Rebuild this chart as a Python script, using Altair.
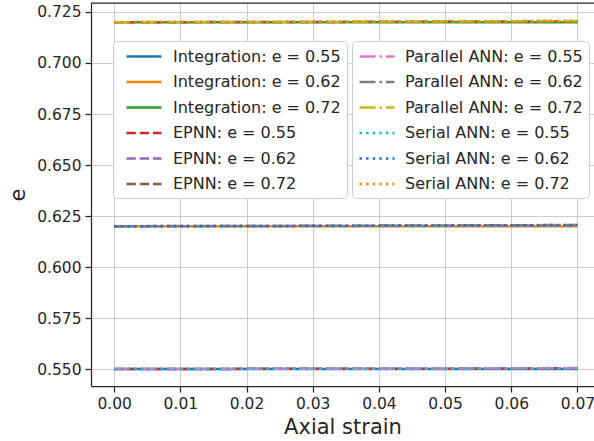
import altair as alt
import pandas as pd

# Axial strain sample points shared by every curve
strain = [0.00, 0.01, 0.02, 0.03, 0.04, 0.05, 0.06, 0.07]

# Void ratio e for each model and initial void ratio
integration_055 = [0.5500, 0.5500, 0.5500, 0.5500, 0.5500, 0.5500, 0.5500, 0.5500]
integration_062 = [0.6200, 0.6200, 0.6200, 0.6200, 0.6200, 0.6200, 0.6200, 0.6200]
integration_072 = [0.7200, 0.7200, 0.7200, 0.7200, 0.7200, 0.7200, 0.7200, 0.7200]
epnn_055 = [0.5500, 0.5500, 0.5501, 0.5501, 0.5502, 0.5502, 0.5503, 0.5504]
epnn_062 = [0.6200, 0.6200, 0.6201, 0.6201, 0.6202, 0.6203, 0.6203, 0.6204]
epnn_072 = [0.7200, 0.7200, 0.7201, 0.7201, 0.7202, 0.7203, 0.7203, 0.7204]
parallel_055 = [0.5500, 0.5500, 0.5501, 0.5502, 0.5502, 0.5503, 0.5504, 0.5505]
parallel_062 = [0.6200, 0.6201, 0.6201, 0.6202, 0.6203, 0.6204, 0.6205, 0.6206]
parallel_072 = [0.7200, 0.7201, 0.7201, 0.7202, 0.7203, 0.7204, 0.7205, 0.7206]
serial_055 = [0.5500, 0.5500, 0.5501, 0.5501, 0.5502, 0.5502, 0.5503, 0.5503]
serial_062 = [0.6200, 0.6201, 0.6201, 0.6202, 0.6203, 0.6204, 0.6205, 0.6206]
serial_072 = [0.7200, 0.7201, 0.7201, 0.7202, 0.7203, 0.7204, 0.7205, 0.7206]

x_ticks = [0.00, 0.01, 0.02, 0.03, 0.04, 0.05, 0.06, 0.07]
y_ticks = [0.550, 0.575, 0.600, 0.625, 0.650, 0.675, 0.700, 0.725]

left_labels = [
    "Integration: e = 0.55", "Integration: e = 0.62", "Integration: e = 0.72",
    "EPNN: e = 0.55", "EPNN: e = 0.62", "EPNN: e = 0.72",
]
right_labels = [
    "Parallel ANN: e = 0.55", "Parallel ANN: e = 0.62", "Parallel ANN: e = 0.72",
    "Serial ANN: e = 0.55", "Serial ANN: e = 0.62", "Serial ANN: e = 0.72",
]
left_series = [integration_055, integration_062, integration_072, epnn_055, epnn_062, epnn_072]
right_series = [parallel_055, parallel_062, parallel_072, serial_055, serial_062, serial_072]

left_colors = ["#1f77b4", "#ff7f0e", "#2ca02c", "#d62728", "#9467bd", "#8c564b"]
right_colors = ["#e377c2", "#7f7f7f", "#bcbd22", "#17becf", "#1f77b4", "#ff7f0e"]

solid = [1, 0]
dashed = [9.25, 4]
dashdot = [16, 4, 2.5, 4]
dotted = [2.5, 4.1]
left_dashes = [solid, solid, solid, dashed, dashed, dashed]
right_dashes = [dashdot, dashdot, dashdot, dotted, dotted, dotted]


def long_table(labels, series):
    rows = []
    for order, (lab, vals) in enumerate(zip(labels, series)):
        for s, v in zip(strain, vals):
            rows.append({"strain": s, "e": v, "label": lab, "order": order})
    return pd.DataFrame(rows)


left_df = long_table(left_labels, left_series)
right_df = long_table(right_labels, right_series)

W, H = 503, 383
x_scale = alt.Scale(domain=[-0.0035, 0.0725], nice=False, zero=False)
y_scale = alt.Scale(domain=[0.5417, 0.7294], nice=False, zero=False)

# legend handles: horizontal segments longer than the symbol's layout box
HANDLE_LEFT = "M-0.25,0H4.125"
HANDLE_RIGHT = "M-1,0H3.375"


def legend(x, handle, label_offset):
    return alt.Legend(
        title=None, orient="none", legendX=x, legendY=38, direction="vertical",
        symbolType=handle, symbolSize=256, symbolStrokeWidth=2.5,
        labelFontSize=16, labelFont="DejaVu Sans", labelColor="#262626",
        labelOffset=label_offset, labelLimit=400, rowPadding=7.5, padding=6,
        fillColor="white", strokeColor="#cccccc", cornerRadius=4,
    )


def line_layer(df, labels, colors, dashes, lg):
    return alt.Chart(df).mark_line(strokeWidth=2.5, clip=True).encode(
        x=alt.X("strain:Q", scale=x_scale,
                axis=alt.Axis(values=x_ticks, format=".2f", title="Axial strain")),
        y=alt.Y("e:Q", scale=y_scale,
                axis=alt.Axis(values=y_ticks, format=".3f", title="e")),
        color=alt.Color("label:N", scale=alt.Scale(domain=labels, range=colors), legend=lg),
        strokeDash=alt.StrokeDash("label:N", scale=alt.Scale(domain=labels, range=dashes), legend=lg),
        detail="label:N",
        order=alt.Order("strain:Q"),
    )


left_layer = line_layer(left_df, left_labels, left_colors, left_dashes,
                        legend(22, HANDLE_LEFT, 35))
right_layer = line_layer(right_df, right_labels, right_colors, right_dashes,
                         legend(261, HANDLE_RIGHT, 28))

# top spine of the frame
top_spine = alt.Chart(pd.DataFrame({"k": [0]})).mark_rule(
    color="#262626", strokeWidth=1.25
).encode(x=alt.value(0), x2=alt.value(W), y=alt.value(0))

chart = alt.layer(left_layer, right_layer, top_spine).resolve_scale(
    color="independent", strokeDash="independent"
).properties(
    width=W, height=H,
    autosize=alt.AutoSizeParams(type="none"),
    padding={"left": 91, "top": 3, "right": 0, "bottom": 55},
    background="white",
).configure_view(stroke=None).configure_axis(
    labelFont="DejaVu Sans", labelFontSize=15.5, labelColor="#262626",
    titleFont="DejaVu Sans", titleFontSize=21, titleFontWeight="normal", titleColor="#262626",
    tickColor="#262626", tickSize=6, tickWidth=1.25,
    domainColor="#262626", domainWidth=1.25,
    gridColor="#cccccc", gridWidth=1, labelPadding=4,
).configure_axisX(titlePadding=5).configure_axisY(titlePadding=8)

chart.save("out.html", embed_options={"renderer": "svg", "actions": False})
